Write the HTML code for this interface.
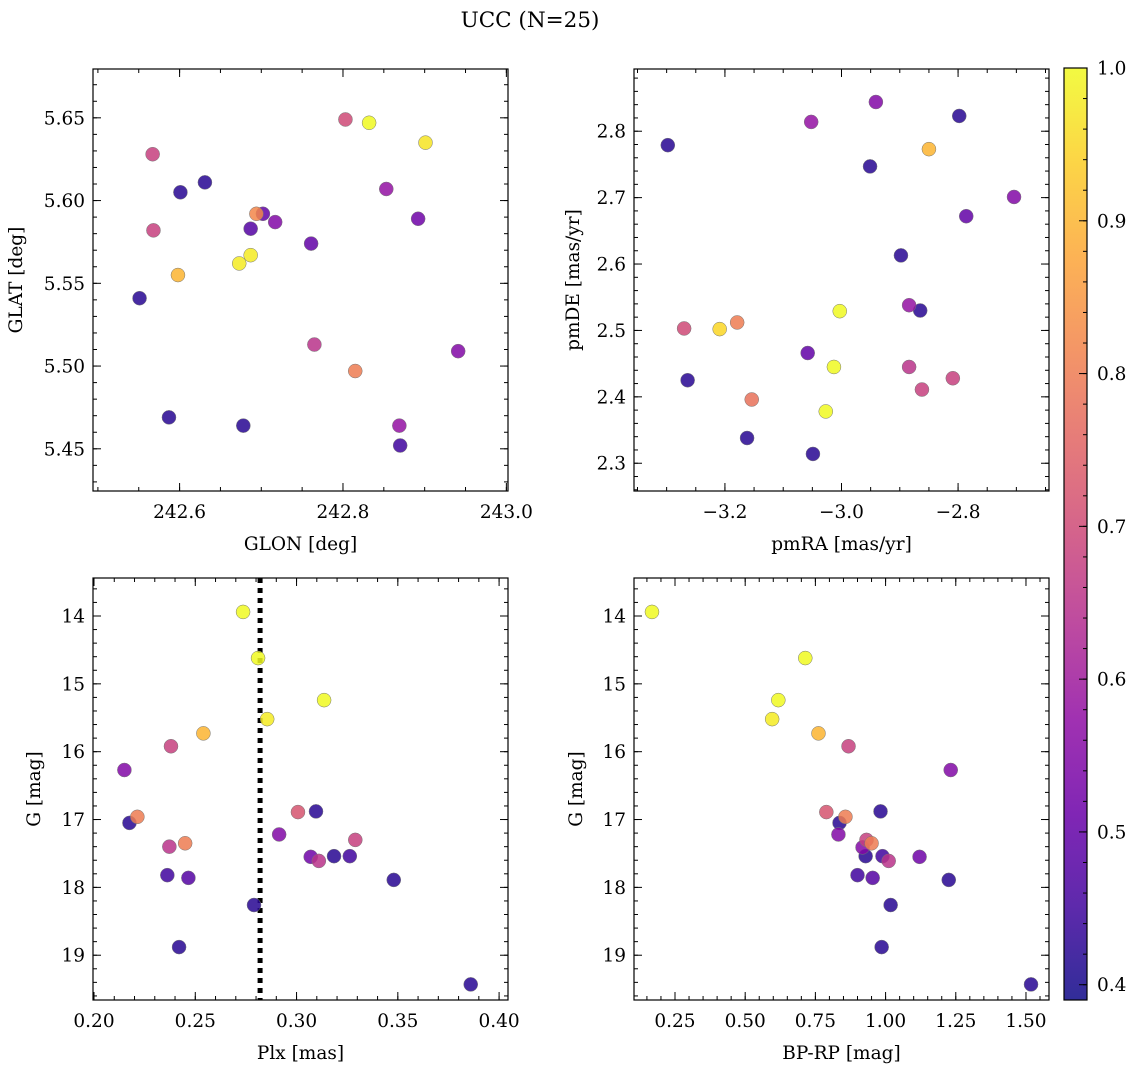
<!DOCTYPE html>
<html><head><meta charset="utf-8"><style>
body{margin:0;background:#fff;}
svg text{font-family:"DejaVu Serif","Liberation Serif",serif;fill:#000;}
</style></head><body>
<svg id="fig" width="1136" height="1068" xmlns="http://www.w3.org/2000/svg">
<text x="530" y="27" font-size="21.5" text-anchor="middle">UCC (N=25)</text>
</svg>
<script>
// membership probabilities per panel
const probTL=[0.70,1.0,0.97,0.68,0.42,0.42,0.58,0.50,0.82,0.55,0.52,0.48,0.68,0.50,0.98,0.98,0.90,0.42,0.65,0.55,0.80,0.42,0.42,0.58,0.45];
const glon=[242.803,242.832,242.901,242.567,242.631,242.601,242.853,242.702,242.694,242.717,242.892,242.687,242.568,242.761,242.687,242.673,242.598,242.551,242.765,242.941,242.815,242.587,242.678,242.869,242.870];
const glat=[5.649,5.647,5.635,5.628,5.611,5.605,5.607,5.592,5.592,5.587,5.589,5.583,5.582,5.574,5.567,5.562,5.555,5.541,5.513,5.509,5.497,5.469,5.464,5.464,5.452];
const probTR=[0.42,0.55,0.58,0.42,0.42,0.90,0.55,0.50,0.42,0.58,0.42,1.0,0.70,0.95,0.80,0.50,1.0,0.65,0.68,0.68,0.42,0.78,1.0,0.42,0.42];
const pmra=[-3.298,-2.941,-3.052,-2.798,-2.951,-2.850,-2.704,-2.786,-2.898,-2.884,-2.865,-3.003,-3.270,-3.209,-3.179,-3.058,-3.013,-2.884,-2.809,-2.862,-3.264,-3.154,-3.027,-3.162,-3.049];
const pmde=[2.779,2.844,2.814,2.823,2.747,2.773,2.701,2.672,2.613,2.538,2.530,2.529,2.503,2.502,2.512,2.466,2.445,2.445,2.428,2.411,2.425,2.396,2.378,2.338,2.314];
const probBL=[1.0,1.0,1.0,0.98,0.90,0.68,0.55,0.42,0.80,0.72,0.42,0.65,0.80,0.55,0.52,0.65,0.42,0.45,0.68,0.45,0.48,0.42,0.42,0.42,0.42];
const plx=[0.2736,0.281,0.3136,0.2855,0.254,0.238,0.215,0.2175,0.2214,0.3007,0.3096,0.2372,0.245,0.2914,0.307,0.311,0.3185,0.3263,0.329,0.2362,0.2466,0.348,0.279,0.242,0.386];
const gmagL=[13.94,14.62,15.24,15.52,15.73,15.92,16.27,17.05,16.96,16.89,16.88,17.40,17.35,17.22,17.55,17.61,17.54,17.54,17.30,17.82,17.86,17.89,18.26,18.88,19.43];
const probBR=[1.0,1.0,1.0,0.98,0.90,0.68,0.55,0.42,0.72,0.80,0.42,0.55,0.68,0.80,0.55,0.42,0.45,0.65,0.52,0.45,0.48,0.42,0.42,0.42,0.42];
const bprp=[0.168,0.714,0.618,0.596,0.761,0.868,1.232,0.982,0.789,0.857,0.836,0.832,0.932,0.95,0.918,0.929,0.989,1.011,1.121,0.9,0.954,1.225,1.018,0.986,1.518];
const gmagR=[13.94,14.62,15.24,15.52,15.73,15.92,16.27,16.88,16.89,16.96,17.05,17.22,17.30,17.35,17.41,17.54,17.54,17.61,17.55,17.82,17.86,17.89,18.26,18.88,19.43];
const plxLine=[0.282];
const cbTicks=[0.4,0.5,0.6,0.7,0.8,0.9,1.0];

const NS="http://www.w3.org/2000/svg";
const svg=document.getElementById('fig');
function mk(tag,attrs,parent){const e=document.createElementNS(NS,tag);for(const k in attrs)e.setAttribute(k,attrs[k]);(parent||svg).appendChild(e);return e;}
const stops=[[13,8,135],[65,4,157],[106,0,168],[143,13,164],[177,42,144],[204,71,120],[225,100,98],[242,132,75],[252,166,54],[252,206,37],[240,249,33]];
const VMIN=0.39,VMAX=1.0;
const TF=18.5, LF=18.5;
function plasma(t){t=Math.max(0,Math.min(1,t));const f=t*10,i=Math.min(9,Math.floor(f)),r=f-i;const a=stops[i],b=stops[i+1];return `rgb(${a.map((v,k)=>Math.round(v+(b[k]-v)*r)).join(',')})`;}
function cmap(p){return plasma((p-VMIN)/(VMAX-VMIN));}

function panel(o){
  const g=mk('g',{});
  
  
  const L=o.box[0],T=o.box[1],R=o.box[2],B=o.box[3];
  const sx=v=>L+(v-o.xr[0])/(o.xr[1]-o.xr[0])*(R-L);
  const sy=o.invert?(v=>T+(v-o.yr[0])/(o.yr[1]-o.yr[0])*(B-T)):(v=>B-(v-o.yr[0])/(o.yr[1]-o.yr[0])*(B-T));
  const ticks=(lo,hi,st)=>{const a=[];for(let v=Math.ceil(lo/st-1e-6)*st;v<=hi+1e-9;v+=st)a.push(+v.toFixed(6));return a;};
  const xlo=Math.min(...o.xr),xhi=Math.max(...o.xr),ylo=Math.min(...o.yr),yhi=Math.max(...o.yr);
  ticks(xlo,xhi,o.xminor).forEach(v=>{const x=sx(v);mk('line',{x1:x,y1:B,x2:x,y2:B-4,stroke:'#000'},g);mk('line',{x1:x,y1:T,x2:x,y2:T+4,stroke:'#000'},g);});
  ticks(ylo,yhi,o.yminor).forEach(v=>{const y=sy(v);mk('line',{x1:L,y1:y,x2:L+4,y2:y,stroke:'#000'},g);mk('line',{x1:R,y1:y,x2:R-4,y2:y,stroke:'#000'},g);});
  ticks(xlo,xhi,o.xmajor).forEach(v=>{const x=sx(v);mk('line',{x1:x,y1:B,x2:x,y2:B-8,stroke:'#000'},g);mk('line',{x1:x,y1:T,x2:x,y2:T+8,stroke:'#000'},g);
    const t=mk('text',{x:x,y:B+27,'font-size':TF,'text-anchor':'middle'},g);t.textContent=o.xfmt(v);});
  ticks(ylo,yhi,o.ymajor).forEach(v=>{const y=sy(v);mk('line',{x1:L,y1:y,x2:L+8,y2:y,stroke:'#000'},g);mk('line',{x1:R,y1:y,x2:R-8,y2:y,stroke:'#000'},g);
    const t=mk('text',{x:L-8,y:y+6.5,'font-size':TF,'text-anchor':'end'},g);t.textContent=o.yfmt(v);});
  const xt=mk('text',{x:(L+R)/2,y:B+59,'font-size':LF,'text-anchor':'middle'},g);xt.textContent=o.xlabel;
  
  const yx=o.ylx,yy=(T+B)/2;
  const yt=mk('text',{x:yx,y:yy,'font-size':LF,'text-anchor':'middle',transform:`rotate(-90 ${yx} ${yy})`},g);yt.textContent=o.ylabel;
  
  if(o.vline){o.vline.forEach(v=>{const l=mk('line',{x1:sx(v),y1:T,x2:sx(v),y2:B,stroke:'#000','stroke-width':5,'stroke-dasharray':'5 5'},g);
    });}
  const idx=o.p.map((_,i)=>i).sort((a,b)=>o.p[a]-o.p[b]);
  idx.forEach(i=>{const c=mk('circle',{cx:sx(o.x[i]),cy:sy(o.y[i]),r:7,fill:cmap(o.p[i]),'fill-opacity':0.85,stroke:'#777','stroke-width':0.5},g);
    });
  const fr=mk('rect',{x:L,y:T,width:R-L,height:B-T,fill:'none',stroke:'#000','stroke-width':1.2},g);
  
}
panel({name:'glon-glat-panel',box:[93,69,508,491],xr:[242.494,243.002],yr:[5.4245,5.6795],x:glon,y:glat,p:probTL,
  xmajor:0.2,xminor:0.05,ymajor:0.05,yminor:0.01,xfmt:v=>v.toFixed(1),yfmt:v=>v.toFixed(2),xlabel:'GLON [deg]',ylabel:'GLAT [deg]',ylx:22});
panel({name:'pm-panel',box:[634,69,1049,491],xr:[-3.356,-2.644],yr:[2.2582,2.8937],x:pmra,y:pmde,p:probTR,
  xmajor:0.2,xminor:0.05,ymajor:0.1,yminor:0.02,xfmt:v=>(v<0?'\u2212':'')+Math.abs(v).toFixed(1),yfmt:v=>v.toFixed(1),xlabel:'pmRA [mas/yr]',ylabel:'pmDE [mas/yr]',ylx:579});
panel({name:'plx-g-panel',box:[93,578,508,1000],xr:[0.1995,0.4044],yr:[13.44,19.66],invert:true,x:plx,y:gmagL,p:probBL,vline:plxLine,
  xmajor:0.05,xminor:0.01,ymajor:1,yminor:0.2,xfmt:v=>v.toFixed(2),yfmt:v=>v.toFixed(0),xlabel:'Plx [mas]',ylabel:'G [mag]',ylx:40});
panel({name:'cmd-panel',box:[634,578,1049,1000],xr:[0.104,1.582],yr:[13.44,19.66],invert:true,x:bprp,y:gmagR,p:probBR,
  xmajor:0.25,xminor:0.05,ymajor:1,yminor:0.2,xfmt:v=>v.toFixed(2),yfmt:v=>v.toFixed(0),xlabel:'BP-RP [mag]',ylabel:'G [mag]',ylx:582});
const cb=mk('g',{});


const defs=mk('defs',{},cb);
const lg=mk('linearGradient',{id:'cbg',x1:0,y1:1,x2:0,y2:0},defs);
for(let k=0;k<=20;k++){mk('stop',{offset:k/20,'stop-color':plasma(k/20),'stop-opacity':0.85},lg);}
const CT=68,CB=1000,CL=1064,CR=1087;
mk('rect',{x:CL,y:CT,width:CR-CL,height:CB-CT,fill:'url(#cbg)',stroke:'#000','stroke-width':1.2},cb);
const cy=v=>CB-(v-VMIN)/(VMAX-VMIN)*(CB-CT);
for(let v=0.40;v<=1.0001;v+=0.02){mk('line',{x1:CR,y1:cy(v),x2:CR-4,y2:cy(v),stroke:'#000'},cb);}
cbTicks.forEach(v=>{mk('line',{x1:CR,y1:cy(v),x2:CR-8,y2:cy(v),stroke:'#000'},cb);
  const t=mk('text',{x:CR+10,y:cy(v)+6.5,'font-size':TF},cb);t.textContent=v.toFixed(1);
  });
</script>
</body></html>
